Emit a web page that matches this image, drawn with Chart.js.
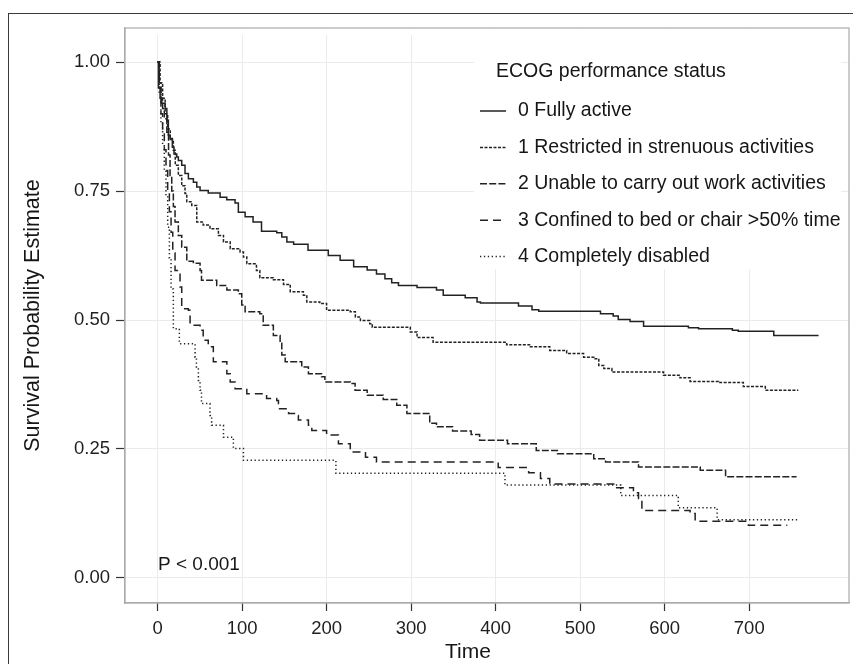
<!DOCTYPE html>
<html>
<head>
    <title>ECOG survival curves</title>
    <style>
        body {
            margin: 0;
            padding: 0;
            background-color: #ffffff;
        }
        .wrap {
            position: relative;
            width: 853px;
            height: 664px;
            overflow: hidden;
        }
        .frame {
            position: absolute;
            left: 8px;
            top: 13px;
            width: 900px;
            height: 700px;
            border-left: 1.5px solid #3a3a3a;
            border-top: 1.5px solid #3a3a3a;
            pointer-events: none;
        }
    </style>
    <script src="https://cdn.jsdelivr.net/npm/chart.js"></script>
</head>
<body>
<div class="wrap">
    <canvas id="kmChart" width="853" height="664"></canvas>
    <div class="frame"></div>
</div>
<script>
    // Kaplan-Meier step data (time, survival probability)
    const time0 = [0, 1, 3, 5, 9, 11, 12.8, 14.8, 17.5, 19.5, 22.7, 24.6, 28.6, 32.5, 36.5, 42.4, 46.4, 50.3, 60, 74, 81.9, 91.7, 95.6, 103.6, 113, 123, 141, 147, 153, 161, 178, 202, 216, 232, 248, 259, 269, 277, 285, 307, 330, 338, 364, 378, 382, 427, 443, 451, 524, 539, 545, 559, 575, 628, 640, 680, 687, 729, 782];
    const surv0 = [1, 0.95, 0.93, 0.92, 0.91, 0.887, 0.858, 0.852, 0.835, 0.822, 0.816, 0.809, 0.80, 0.784, 0.774, 0.767, 0.758, 0.751, 0.746, 0.738, 0.733, 0.727, 0.709, 0.700, 0.690, 0.672, 0.669, 0.661, 0.651, 0.647, 0.635, 0.625, 0.616, 0.603, 0.597, 0.589, 0.580, 0.572, 0.567, 0.563, 0.558, 0.548, 0.543, 0.535, 0.533, 0.527, 0.520, 0.517, 0.512, 0.508, 0.501, 0.497, 0.488, 0.485, 0.483, 0.480, 0.478, 0.470, 0.470];

    const time1 = [0, 3, 6, 9, 12, 15, 18.7, 21, 24.6, 28.6, 32.5, 34.6, 40.5, 46.4, 54, 62, 72, 78, 86, 97.6, 101.6, 105.6, 117, 121, 137, 149, 157, 172.5, 176.6, 192, 200, 228, 234, 240, 251, 254, 299, 307, 326, 413, 441, 464, 484, 504, 516, 522, 528, 537.5, 598.6, 618, 630, 663.7, 693, 719, 758];
    const surv1 = [1, 0.96, 0.93, 0.90, 0.87, 0.85, 0.829, 0.80, 0.78, 0.76, 0.745, 0.729, 0.722, 0.690, 0.684, 0.677, 0.664, 0.651, 0.638, 0.632, 0.622, 0.609, 0.596, 0.582, 0.578, 0.569, 0.555, 0.548, 0.535, 0.532, 0.519, 0.516, 0.506, 0.499, 0.493, 0.486, 0.477, 0.466, 0.457, 0.452, 0.448, 0.441, 0.435, 0.428, 0.425, 0.412, 0.406, 0.399, 0.393, 0.388, 0.381, 0.379, 0.371, 0.364, 0.364];

    const time2 = [0, 2, 4, 6, 8, 11, 13, 14.8, 16.8, 18.7, 20.7, 24.6, 28.6, 34.6, 42.4, 50.3, 52, 70, 82, 95.6, 99.6, 103.6, 121, 125, 137, 145, 147, 151, 170.6, 178.5, 194, 198, 228, 233.7, 248, 267, 283, 295, 322, 330, 349, 371, 381, 414, 448, 473, 516, 530, 569, 642, 672, 756];
    const surv2 = [1, 0.96, 0.93, 0.91, 0.89, 0.864, 0.82, 0.78, 0.75, 0.72, 0.69, 0.664, 0.641, 0.614, 0.610, 0.596, 0.577, 0.567, 0.558, 0.551, 0.529, 0.516, 0.512, 0.490, 0.470, 0.457, 0.432, 0.419, 0.409, 0.396, 0.390, 0.380, 0.377, 0.364, 0.354, 0.346, 0.335, 0.319, 0.300, 0.293, 0.285, 0.278, 0.267, 0.260, 0.247, 0.241, 0.231, 0.225, 0.215, 0.209, 0.196, 0.196];

    const time3 = [0, 2, 4, 6, 8, 10, 12, 14, 16, 18, 20.7, 26.6, 28.6, 36.5, 38.5, 50.3, 54, 60, 66, 82, 86, 91.7, 105.6, 129, 141, 143, 153, 155, 165, 166.6, 178.5, 182.5, 200, 214, 228, 246, 259, 403, 439, 453, 464, 541, 563, 569, 573, 630, 636, 699, 745];
    const surv3 = [1, 0.95, 0.90, 0.87, 0.83, 0.79, 0.75, 0.71, 0.67, 0.63, 0.596, 0.564, 0.522, 0.519, 0.490, 0.480, 0.461, 0.448, 0.419, 0.396, 0.380, 0.367, 0.357, 0.348, 0.344, 0.328, 0.325, 0.319, 0.315, 0.306, 0.296, 0.286, 0.277, 0.260, 0.244, 0.234, 0.225, 0.214, 0.204, 0.193, 0.182, 0.175, 0.165, 0.154, 0.131, 0.125, 0.110, 0.102, 0.102];

    const time4 = [0, 2, 4, 6, 8, 10, 12, 14, 16, 18.7, 25.8, 44.4, 46, 48.3, 50.3, 52, 62, 64, 78, 89.7, 101.6, 211, 411, 548, 616, 662, 758];
    const surv4 = [1, 0.94, 0.88, 0.84, 0.79, 0.74, 0.68, 0.62, 0.56, 0.483, 0.454, 0.428, 0.405, 0.383, 0.364, 0.338, 0.315, 0.296, 0.273, 0.251, 0.228, 0.203, 0.180, 0.160, 0.136, 0.113, 0.113];

    const groupNames = [
        '0 Fully active',
        '1 Restricted in strenuous activities',
        '2 Unable to carry out work activities',
        '3 Confined to bed or chair >50% time',
        '4 Completely disabled'
    ];
    const xTickValues = [0, 100, 200, 300, 400, 500, 600, 700];
    const yTickValues = [0, 0.25, 0.5, 0.75, 1];

    const times = [time0, time1, time2, time3, time4];
    const survs = [surv0, surv1, surv2, surv3, surv4];
    const dashes = [[], [3, 1.5], [7, 2.2], [8, 5], [1.3, 2.6]];

    const FONT = "'Liberation Sans', Arial, sans-serif";
    Chart.defaults.font.family = FONT;
    Chart.defaults.color = '#1f1f1f';

    const datasets = groupNames.map((name, i) => ({
        label: name,
        data: times[i].map((t, k) => ({ x: t, y: survs[i][k] })),
        borderColor: '#222222',
        borderWidth: 1.5,
        borderDash: dashes[i],
        pointRadius: 0,
        fill: false,
        stepped: true,
        tension: 0
    }));

    // white legend box inside the panel, panel outline, p-value and x title
    const panelExtras = {
        id: 'panelExtras',
        beforeDatasetsDraw(chart) {
            const ctx = chart.ctx;
            const a = chart.chartArea;
            ctx.save();
            ctx.fillStyle = '#ffffff';
            // gridlines stop a little below the panel top
            ctx.fillRect(a.left + 1, a.top + 1, a.right - a.left - 2, 6);
            ctx.fillRect(474, a.top + 1, 367, 240);

            ctx.fillStyle = '#161616';
            ctx.font = '19.5px ' + FONT;
            ctx.textBaseline = 'middle';
            ctx.textAlign = 'left';
            ctx.fillText('ECOG performance status', 496, 71.5);

            chart.data.datasets.forEach((ds, i) => {
                const y = 111 + i * 36.4;
                ctx.strokeStyle = ds.borderColor;
                ctx.lineWidth = ds.borderWidth;
                ctx.setLineDash(ds.borderDash);
                ctx.beginPath();
                ctx.moveTo(480, y);
                ctx.lineTo(506, y);
                ctx.stroke();
                ctx.setLineDash([]);
                ctx.fillText(ds.label, 518, y);
            });

            ctx.font = '19px ' + FONT;
            ctx.fillText('P < 0.001', 158, 565);

            ctx.font = '21px ' + FONT;
            ctx.textAlign = 'center';
            ctx.fillText('Time', 468, 652);

            ctx.strokeStyle = '#ababab';
            ctx.lineWidth = 1.2;
            ctx.strokeRect(a.left, a.top, a.right - a.left, a.bottom - a.top);
            ctx.restore();
        }
    };

    new Chart(document.getElementById('kmChart'), {
        type: 'line',
        data: { datasets: datasets },
        options: {
            responsive: false,
            animation: false,
            devicePixelRatio: 1,
            layout: { padding: { left: 0, top: 28, right: 4, bottom: 0 } },
            plugins: {
                legend: { display: false },
                tooltip: { enabled: false }
            },
            scales: {
                x: {
                    type: 'linear',
                    min: -38.5,
                    max: 818,
                    afterBuildTicks: (scale) => { scale.ticks = xTickValues.map(v => ({ value: v })); },
                    afterFit: (scale) => { scale.height = 61; },
                    grid: { color: '#ebebeb', lineWidth: 1, tickLength: 8, tickColor: '#333333', tickWidth: 1.2 },
                    border: { display: true, color: '#ababab', width: 1.2 },
                    ticks: { font: { size: 18.5 }, padding: 7, maxRotation: 0, color: '#1f1f1f' },
                    title: { display: false }
                },
                y: {
                    type: 'linear',
                    min: -0.0485,
                    max: 1.066,
                    afterBuildTicks: (scale) => { scale.ticks = yTickValues.map(v => ({ value: v })); },
                    afterFit: (scale) => { scale.width = 125; },
                    grid: { color: '#ebebeb', lineWidth: 1, tickLength: 9, tickColor: '#333333', tickWidth: 1.2 },
                    border: { display: true, color: '#ababab', width: 1.2 },
                    ticks: { font: { size: 18.5 }, padding: 6, color: '#1f1f1f', callback: (v) => Number(v).toFixed(2) },
                    title: { display: true, text: 'Survival Probability Estimate', font: { size: 21.5 }, color: '#161616', padding: { top: 20, bottom: 0 } }
                }
            }
        },
        plugins: [panelExtras]
    });
</script>
</body>
</html>
